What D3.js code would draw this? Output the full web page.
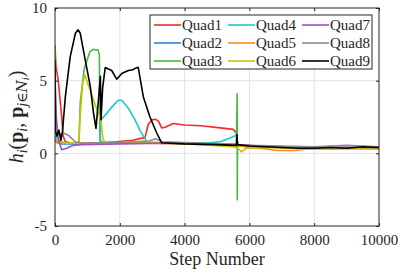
<!DOCTYPE html>
<html>
<head>
<meta charset="utf-8">
<script src="https://cdn.jsdelivr.net/npm/d3@7"></script>
<style>
  body { margin: 0; background: #fff; }
  svg, svg text { font-family: "Liberation Serif", "Times New Roman", Tinos, "DejaVu Serif", "Noto Serif", serif; }
</style>
</head>
<body>
<div id="chart"></div>
<script>
// values: [step, h]
const quad1 = [[0,7.4],[30,6.0],[100,5.0],[215,2.3],[250,1.2],[320,0.8],[600,0.65],[1200,0.7],[1900,0.8],[2400,0.9],[2780,1.1],[2880,2.0],[2990,2.3],[3100,2.35],[3200,2.2],[3290,1.75],[3400,1.8],[3650,2.05],[4000,1.95],[4500,1.9],[5100,1.75],[5500,1.65],[5600,1.4],[5640,0.6],[6000,0.55],[7000,0.4],[8000,0.35],[9000,0.35],[10000,0.35]];
const quad2 = [[0,0.9],[60,0.75],[200,0.65],[600,0.65],[1500,0.7],[3000,0.75],[4500,0.65],[5600,0.6],[6500,0.45],[8000,0.4],[10000,0.35]];
const quad3 = [[0,7.45],[20,1.5],[80,0.8],[400,0.7],[740,0.75],[780,3.5],[900,5.8],[1080,7.0],[1180,7.15],[1330,7.1],[1370,6.8],[1385,0.9],[1500,0.7],[3000,0.75],[5600,0.6],[5622,4.1],[5627,-3.2],[5632,0.5],[7000,0.4],[10000,0.35]];
const quad4 = [[0,1.2],[80,0.9],[200,0.7],[1000,0.65],[1390,0.7],[1410,2.3],[1600,2.75],[1800,3.3],[1950,3.65],[2060,3.65],[2265,3.1],[2470,2.3],[2620,1.6],[2780,1.0],[2860,0.7],[3500,0.7],[4700,0.7],[5100,0.8],[5400,1.05],[5600,1.25],[5650,0.6],[6000,0.5],[8000,0.4],[10000,0.4]];
const quad5 = [[0,0.8],[100,0.7],[600,0.7],[2000,0.75],[4000,0.65],[5600,0.55],[6000,0.4],[6500,0.3],[6900,0.2],[7400,0.2],[7800,0.3],[8500,0.3],[9200,0.35],[10000,0.3]];
const quad6 = [[0,1.0],[100,0.9],[300,0.7],[740,0.7],[760,2.0],[850,4.8],[920,5.4],[1150,3.9],[1380,2.5],[1430,2.0],[1480,1.0],[1550,0.75],[1700,0.7],[3000,0.75],[4500,0.6],[5500,0.45],[5650,0.35],[5760,0.1],[5900,0.35],[6500,0.4],[8000,0.3],[10000,0.3]];
const quad7 = [[0,5.0],[40,2.5],[100,1.0],[205,0.25],[360,0.35],[565,0.55],[800,0.6],[2000,0.65],[3500,0.7],[5600,0.6],[6500,0.45],[10000,0.4]];
const quad8 = [[0,1.5],[115,1.25],[255,1.4],[410,1.25],[620,0.8],[800,0.7],[2000,0.75],[2900,0.85],[3100,1.0],[3300,0.8],[4500,0.7],[5600,0.6],[6000,0.55],[7000,0.5],[8000,0.45],[9000,0.55],[10000,0.45]];
const quad9 = [[0,6.4],[15,1.5],[60,1.2],[120,1.6],[180,0.9],[230,1.5],[320,3.9],[470,6.65],[630,8.26],[710,8.5],[780,8.26],[935,6.4],[1090,4.6],[1190,2.75],[1265,1.72],[1350,3.9],[1400,5.3],[1420,2.3],[1470,4.5],[1550,5.9],[1750,5.7],[1905,5.1],[2060,5.5],[2265,5.7],[2400,5.75],[2520,5.9],[2570,5.9],[2725,3.9],[2930,2.5],[3140,1.4],[3290,0.73],[4000,0.65],[5000,0.6],[5600,0.55],[5615,1.3],[5630,0.6],[6000,0.5],[6500,0.45],[7000,0.4],[7500,0.35],[8000,0.35],[8500,0.4],[9000,0.35],[9500,0.45],[10000,0.4]];

const names = ['Quad1','Quad2','Quad3','Quad4','Quad5','Quad6','Quad7','Quad8','Quad9'];
const seriesData = [quad1, quad2, quad3, quad4, quad5, quad6, quad7, quad8, quad9];
const colors = ['#f22a2a','#2b86d6','#45b945','#1cc9c9','#ff8a1c','#c4c400','#a24fbf','#8c8c8c','#000000'];
const xTicks = [0, 2000, 4000, 6000, 8000, 10000];
const yTicks = [-5, 0, 5, 10];

const serif = '"Liberation Serif", "Times New Roman", Tinos, "DejaVu Serif", serif';
const width = 419, height = 269;
const margin = { left: 55, right: 40, top: 8, bottom: 43 };

const svg = d3.select('#chart').append('svg')
  .attr('width', width).attr('height', height)
  .attr('font-family', serif);

const x = d3.scaleLinear().domain([0, 10000]).range([margin.left, width - margin.right]);
const y = d3.scaleLinear().domain([-5, 10]).range([height - margin.bottom, margin.top]);

// grid
svg.append('g').selectAll('line').data(xTicks.slice(1, -1)).enter().append('line')
  .attr('x1', d => x(d)).attr('x2', d => x(d))
  .attr('y1', y(-5)).attr('y2', y(10))
  .attr('stroke', '#e3e3e3').attr('stroke-width', 1);
svg.append('g').selectAll('line').data(yTicks.slice(1, -1)).enter().append('line')
  .attr('y1', d => y(d)).attr('y2', d => y(d))
  .attr('x1', x(0)).attr('x2', x(10000))
  .attr('stroke', '#e3e3e3').attr('stroke-width', 1);

svg.append('clipPath').attr('id', 'clip').append('rect')
  .attr('x', x(0)).attr('y', y(10))
  .attr('width', x(10000) - x(0)).attr('height', y(-5) - y(10));

const line = d3.line().x(d => x(d[0])).y(d => y(d[1]));

svg.append('g').attr('clip-path', 'url(#clip)')
  .selectAll('path').data(seriesData).enter().append('path')
  .attr('d', line)
  .attr('fill', 'none')
  .attr('stroke', (d, i) => colors[i])
  .attr('stroke-width', 1.6)
  .attr('stroke-linejoin', 'round');

// axes, MATLAB style: ticks inside, box on
const axisStyle = g => {
  g.attr('font-family', serif).attr('font-size', 15);
  g.select('.domain').remove();
  g.selectAll('.tick line').attr('stroke', '#262626');
  g.selectAll('.tick text').attr('fill', '#262626');
};

svg.append('g').attr('transform', `translate(0,${y(-5)})`)
  .call(d3.axisBottom(x).tickValues(xTicks).tickFormat(d3.format('d')).tickSizeInner(-3).tickPadding(8))
  .call(axisStyle);
svg.append('g').attr('transform', `translate(0,${y(10)})`)
  .call(d3.axisTop(x).tickValues(xTicks).tickFormat('').tickSizeInner(-3))
  .call(axisStyle);
svg.append('g').attr('transform', `translate(${x(0)},0)`)
  .call(d3.axisLeft(y).tickValues(yTicks).tickFormat(d => d < 0 ? '-' + Math.abs(d) : d).tickSizeInner(-3).tickPadding(8))
  .call(axisStyle);
svg.append('g').attr('transform', `translate(${x(10000)},0)`)
  .call(d3.axisRight(y).tickValues(yTicks).tickFormat('').tickSizeInner(-3))
  .call(axisStyle);

svg.append('rect')
  .attr('x', x(0)).attr('y', y(10))
  .attr('width', x(10000) - x(0)).attr('height', y(-5) - y(10))
  .attr('fill', 'none').attr('stroke', '#262626').attr('stroke-width', 1);

// axis labels
svg.append('text')
  .attr('x', (x(0) + x(10000)) / 2).attr('y', 265)
  .attr('text-anchor', 'middle')
  .attr('font-size', 18).attr('fill', '#262626')
  .text('Step Number');

const yl = svg.append('text')
  .attr('transform', `translate(23,${(y(10) + y(-5)) / 2}) rotate(-90)`)
  .attr('text-anchor', 'middle')
  .attr('font-size', 20).attr('fill', '#262626');
yl.append('tspan').attr('font-style', 'italic').text('h');
yl.append('tspan').attr('font-style', 'italic').attr('font-size', 14).attr('dy', 4).text('i');
yl.append('tspan').attr('dy', -4).text('(');
yl.append('tspan').attr('font-weight', 'bold').text('p');
yl.append('tspan').attr('font-style', 'italic').attr('font-size', 14).attr('dy', 4).text('i');
yl.append('tspan').attr('dy', -4).text(', ');
yl.append('tspan').attr('font-weight', 'bold').text('p');
yl.append('tspan').attr('font-style', 'italic').attr('font-size', 14).attr('dy', 4).text('j∈');
yl.append('tspan').attr('font-style', 'italic').attr('font-size', 14).attr('font-family', '"DejaVu Serif", serif').text('N');
yl.append('tspan').attr('font-style', 'italic').attr('font-size', 10).attr('dy', 2).text('i');
yl.append('tspan').attr('dy', -6).text(')');

// legend
const lg = svg.append('g');
const lgX = 150, lgY = 15, colW = 74, rowH = 18;
lg.append('rect')
  .attr('x', lgX).attr('y', lgY).attr('width', 222).attr('height', 54)
  .attr('fill', '#fff').attr('stroke', '#262626').attr('stroke-width', 1);
const items = lg.selectAll('g').data(names).enter().append('g')
  .attr('transform', (d, i) => `translate(${lgX + 4 + Math.floor(i / 3) * colW},${lgY + 10 + (i % 3) * rowH})`);
items.append('line')
  .attr('x1', 0).attr('x2', 27).attr('y1', 0).attr('y2', 0)
  .attr('stroke', (d, i) => colors[i]).attr('stroke-width', 1.6);
items.append('text')
  .attr('x', 28).attr('y', 5)
  .attr('font-size', 15).attr('fill', '#262626')
  .text(d => d);
</script>
</body>
</html>
